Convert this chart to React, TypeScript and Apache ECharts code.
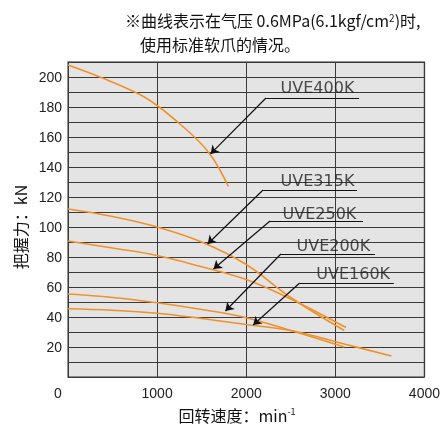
import React, { useEffect, useRef } from 'react';
import * as echarts from 'echarts';

// ---- data ----
const modelNames = ['UVE400K', 'UVE315K', 'UVE250K', 'UVE200K', 'UVE160K'];

const uve400k = [[0, 208], [400, 199], [800, 188.5], [1000, 181], [1250, 169], [1470, 157], [1600, 148], [1700, 138.5], [1800, 127]];
const uve315k = [[0, 112], [500, 107], [1000, 100], [1500, 90], [2000, 75], [2500, 53], [3100, 31]];
const uve250k = [[0, 90.7], [500, 86], [1000, 81], [1500, 73.5], [2000, 65], [2500, 52], [3120, 33]];
const uve200k = [[0, 55.3], [500, 53], [1000, 49.5], [1500, 45], [2000, 39.5], [2500, 31], [3100, 20]];
const uve160k = [[0, 45.5], [500, 44.5], [1000, 42.5], [1500, 39], [2000, 35], [2500, 31], [3100, 22], [3630, 14]];
const curves = [uve400k, uve315k, uve250k, uve200k, uve160k];

// annotation anchors (data coordinates)
const labelPos = [[2800, 192.7], [2800, 130.7], [2822, 109.3], [2978, 88], [3200, 68.7]];
const underlineLeft = [[2222, 186], [2189, 124.7], [2267, 104], [2389, 82], [2600, 62.7]];
const underlineRight = [[3267, 186], [3244, 124.7], [3311, 104], [3444, 82], [3656, 62.7]];
const arrowTips = [[1600, 148.7], [1567, 88.7], [1633, 72], [1767, 44], [2078, 34.7]];

const xTicks = [0, 1000, 2000, 3000, 4000];
const yMax = 210;

const titleLine1 = '※曲线表示在气压 0.6MPa(6.1kgf/cm{s|2})时,';
const titleLine2 = '使用标准软爪的情况。';
const xName = '回转速度：min{s|-1}';
const yName = '把握力：kN';

const CURVE = '#f0912c';
const TICKFONT = '"Liberation Sans", Arial, sans-serif';
const CJK = '"Noto Sans CJK SC", sans-serif';

export default function App() {
  const ref = useRef<HTMLDivElement>(null);
  useEffect(() => {
    const chart = echarts.init(ref.current!, null, { renderer: 'svg' });
    const curveSeries = curves.map((d, i) => ({
      name: modelNames[i],
      type: 'line',
      data: d,
      smooth: 0.4,
      showSymbol: false,
      symbol: 'none',
      lineStyle: { color: CURVE, width: 1.6 },
      z: 3,
    }));
    chart.setOption({
      animation: false,
      grid: {
        left: 68, right: 15, top: 62, bottom: 49,
        show: true, backgroundColor: '#e4e4e4', borderColor: '#6e6e6e', borderWidth: 1.5,
      },
      xAxis: {
        type: 'value', min: xTicks[0], max: xTicks[xTicks.length - 1], interval: 1000,
        axisLine: { show: false }, axisTick: { show: false },
        splitLine: { show: true, lineStyle: { color: '#3a3a3a', width: 1 } },
        axisLabel: {
          color: '#222', fontSize: 14, margin: 9, fontFamily: TICKFONT,
          formatter: (v: number) => (v === 0 ? '{z|0}' : String(v)),
          rich: { z: { padding: [0, 20, 0, 0], fontSize: 14, fontFamily: TICKFONT, color: '#222' } },
        },
      },
      yAxis: {
        type: 'value', min: 0, max: yMax, interval: 10,
        axisLine: { show: false }, axisTick: { show: false },
        splitLine: { show: true, lineStyle: { color: '#3a3a3a', width: 1 } },
        axisLabel: {
          color: '#222', fontSize: 14, margin: 6, fontFamily: TICKFONT,
          formatter: (v: number) => (v % 20 === 0 && v !== 0 ? String(v) : ''),
        },
      },
      series: [
        ...curveSeries,
        {
          type: 'lines', coordinateSystem: 'cartesian2d', z: 4,
          symbol: 'none',
          lineStyle: { color: '#111', width: 1.2, opacity: 1 },
          data: underlineLeft.map((p, i) => ({ coords: [p, underlineRight[i]] })),
        },
        {
          type: 'lines', coordinateSystem: 'cartesian2d', z: 4,
          symbol: ['none', 'arrow'], symbolSize: 8,
          lineStyle: { color: '#111', width: 1.2, opacity: 1 },
          itemStyle: { color: '#111' },
          data: underlineLeft.map((p, i) => ({ coords: [p, arrowTips[i]] })),
        },
        {
          type: 'scatter', z: 5, symbolSize: 1,
          itemStyle: { color: 'rgba(0,0,0,0)' },
          data: labelPos.map((p, i) => ({ name: modelNames[i], value: p })),
          label: {
            show: true, position: 'inside', formatter: (p: any) => p.name,
            color: '#222', fontSize: 16, fontFamily: '"DejaVu Sans", sans-serif',
          },
          emphasis: { disabled: true },
        },
      ],
      graphic: [
        {
          type: 'text', x: 125, y: 20,
          style: {
            text: titleLine1, fill: '#111', fontSize: 16, fontFamily: CJK,
            align: 'left', verticalAlign: 'middle',
            rich: { s: { fontSize: 10, fontFamily: CJK, fill: '#111', verticalAlign: 'top' } },
          },
        },
        {
          type: 'text', x: 140, y: 44,
          style: { text: titleLine2, fill: '#111', fontSize: 16, fontFamily: CJK, align: 'left', verticalAlign: 'middle' },
        },
        {
          type: 'text', x: 237, y: 415,
          style: {
            text: xName, fill: '#111', fontSize: 16, fontFamily: CJK, align: 'center', verticalAlign: 'middle',
            rich: { s: { fontSize: 9, fontFamily: CJK, fill: '#111', verticalAlign: 'top' } },
          },
        },
        {
          type: 'text', x: 20, y: 227, rotation: Math.PI / 2,
          style: { text: yName, fill: '#111', fontSize: 16, fontFamily: CJK, align: 'center', verticalAlign: 'middle' },
        },
      ],
    });
    return () => chart.dispose();
  }, []);
  return <div ref={ref} style={{ position: 'fixed', left: 0, top: 0, width: 443, height: 426 }} />;
}
